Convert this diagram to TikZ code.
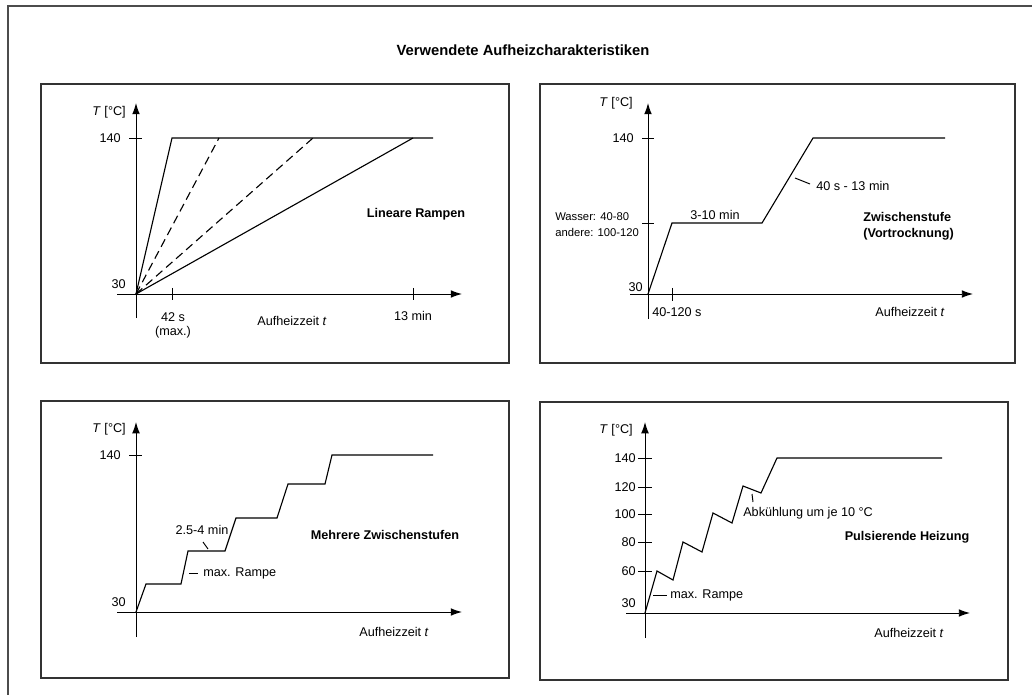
\documentclass[tikz,border=0pt]{standalone}
\usepackage{fontspec}
\setmainfont{Liberation Sans}
\usetikzlibrary{arrows.meta,positioning}

\tikzset{
  txt/.style={inner sep=0pt, font=\fontsize{9}{10}\selectfont},
  klein/.style={inner sep=0pt, font=\fontsize{8}{9}\selectfont},
  fett/.style={inner sep=0pt, font=\fontsize{9}{11}\selectfont\bfseries},
  panel/.style={draw=black!80, line width=0.9pt},
  achse/.style={line width=0.7pt, -{Latex[length=8pt,width=5.5pt]}},
  kurve/.style={line width=0.8pt},
  strich/.style={line width=0.7pt},
}

\begin{document}
\begin{tikzpicture}[x=0.025cm, y=-0.025cm]
\useasboundingbox (0,0) rectangle (1032,695);
% aeusserer Rahmen
\draw[draw=black!70, line width=1pt] (8,695) -- (8,6) -- (1032,6);
\node[fett, font=\fontsize{10.5}{12}\selectfont\bfseries] (titel) at (523,50) {Verwendete Aufheizcharakteristiken};

% vier Felder
\draw[panel] (41,84) rectangle (509,363);
\draw[panel] (540,84) rectangle (1015,363);
\draw[panel] (41,401) rectangle (509,678);
\draw[panel] (540,402) rectangle (1008,680);

% ---- lineare Rampen
\draw[achse] (117,294) -- (462,294);
\draw[achse] (136,318) -- (136,103);
\draw[strich] (129,138) -- (142,138);
\foreach \x in {172,413} \draw[strich] (\x,288) -- (\x,300);
\draw[kurve] (136,294) -- (172,138) -- (433,138);
\draw[kurve] (136,294) -- (413,138);
\draw[kurve, dash pattern=on 6pt off 3.5pt] (136,294) -- (219,138);
\draw[kurve, dash pattern=on 6pt off 3.5pt] (136,294) -- (313,138);
\node[txt, anchor=east] (tA) at (126,112) {\textit{T} [°C]};
\node[txt, anchor=east] (wA140) at (121,138) {140};
\node[txt, anchor=east] (wA30) at (126,284) {30};
\node[txt] (zeit42) at (173,317) {42 s};
\node[txt, below=3pt of zeit42] (zeitmax) {(max.)};
\node[txt] (zeit13) at (413,316) {13 min};
\node[txt] (xA) at (292,321) {Aufheizzeit \textit{t}};
\node[fett] (nameA) at (416,214) {Lineare Rampen};

% ---- Zwischenstufe
\draw[achse] (630,294) -- (973,294);
\draw[achse] (648,319) -- (648,103);
\foreach \y in {138,223} \draw[strich] (642,\y) -- (654,\y);
\draw[strich] (672,288) -- (672,301);
\draw[kurve] (648,294) -- (672,223) -- (762,223) -- (813,138) -- (945,138);
\draw[strich] (795,178) -- (810,184);
\node[txt, anchor=east] (tB) at (633,103) {\textit{T} [°C]};
\node[txt, anchor=east] (wB140) at (634,138) {140};
\node[txt, anchor=east] (wB30) at (643,287) {30};
\node[klein, anchor=west] (wasser) at (555,217) {Wasser: 40-80};
\node[klein, anchor=west] (andere) at (555,232) {andere: 100-120};
\node[txt, anchor=west] (zeit40) at (652,312) {40-120 s};
\node[txt] (stufe) at (715,215) {3-10 min};
\node[txt, anchor=west] (rampeB) at (816,186) {40 s - 13 min};
\node[fett, anchor=west] (nameB) at (863,217) {Zwischenstufe};
\node[fett, anchor=west] (nameB2) at (863,234) {(Vortrocknung)};
\node[txt] (xB) at (910,312) {Aufheizzeit \textit{t}};

% ---- mehrere Zwischenstufen
\draw[achse] (117,612) -- (462,612);
\draw[achse] (136,637) -- (136,422);
\draw[strich] (129,455) -- (142,455);
\draw[kurve] (136,612) -- (146,584) -- (181,584) -- (188,551) -- (225,551) -- (236,518)
  -- (277,518) -- (288,484) -- (325,484) -- (332,455) -- (433,455);
\draw[strich] (203,542) -- (208,549);
\draw[strich] (189,573) -- (198,573);
\node[txt, anchor=east] (tC) at (126,429) {\textit{T} [°C]};
\node[txt, anchor=east] (wC140) at (121,455) {140};
\node[txt, anchor=east] (wC30) at (126,602) {30};
\node[txt] (dauerC) at (202,530) {2.5-4 min};
\node[txt, anchor=west] (rampeC) at (203,573) {max. Rampe};
\node[fett] (nameC) at (385,535) {Mehrere Zwischenstufen};
\node[txt] (xC) at (394,632) {Aufheizzeit \textit{t}};

% ---- pulsierende Heizung
\draw[achse] (626,613) -- (970,613);
\draw[achse] (645,638) -- (645,422);
\foreach \y/\w in {458/140,487/120,514/100,542/80,571/60}{
  \draw[strich] (638,\y) -- (652,\y);
  \node[txt, anchor=east] (wD\w) at (636,\y) {\w};
}
\draw[kurve] (645,613) -- (657,571) -- (673,580) -- (683,542) -- (702,552) -- (713,513)
  -- (732,523) -- (743,486) -- (761,493) -- (777,458) -- (942,458);
\draw[strich] (752,494) -- (753,502);
\draw[strich] (653,595) -- (667,595);
\node[txt, anchor=east] (tD) at (633,430) {\textit{T} [°C]};
\node[txt, anchor=east] (wD30) at (636,603) {30};
\node[txt, anchor=west] (abk) at (743,513) {Abkühlung um je 10 °C};
\node[txt, anchor=west] (rampeD) at (670,595) {max. Rampe};
\node[fett] (nameD) at (907,537) {Pulsierende Heizung};
\node[txt] (xD) at (909,633) {Aufheizzeit \textit{t}};
\end{tikzpicture}
\end{document}
